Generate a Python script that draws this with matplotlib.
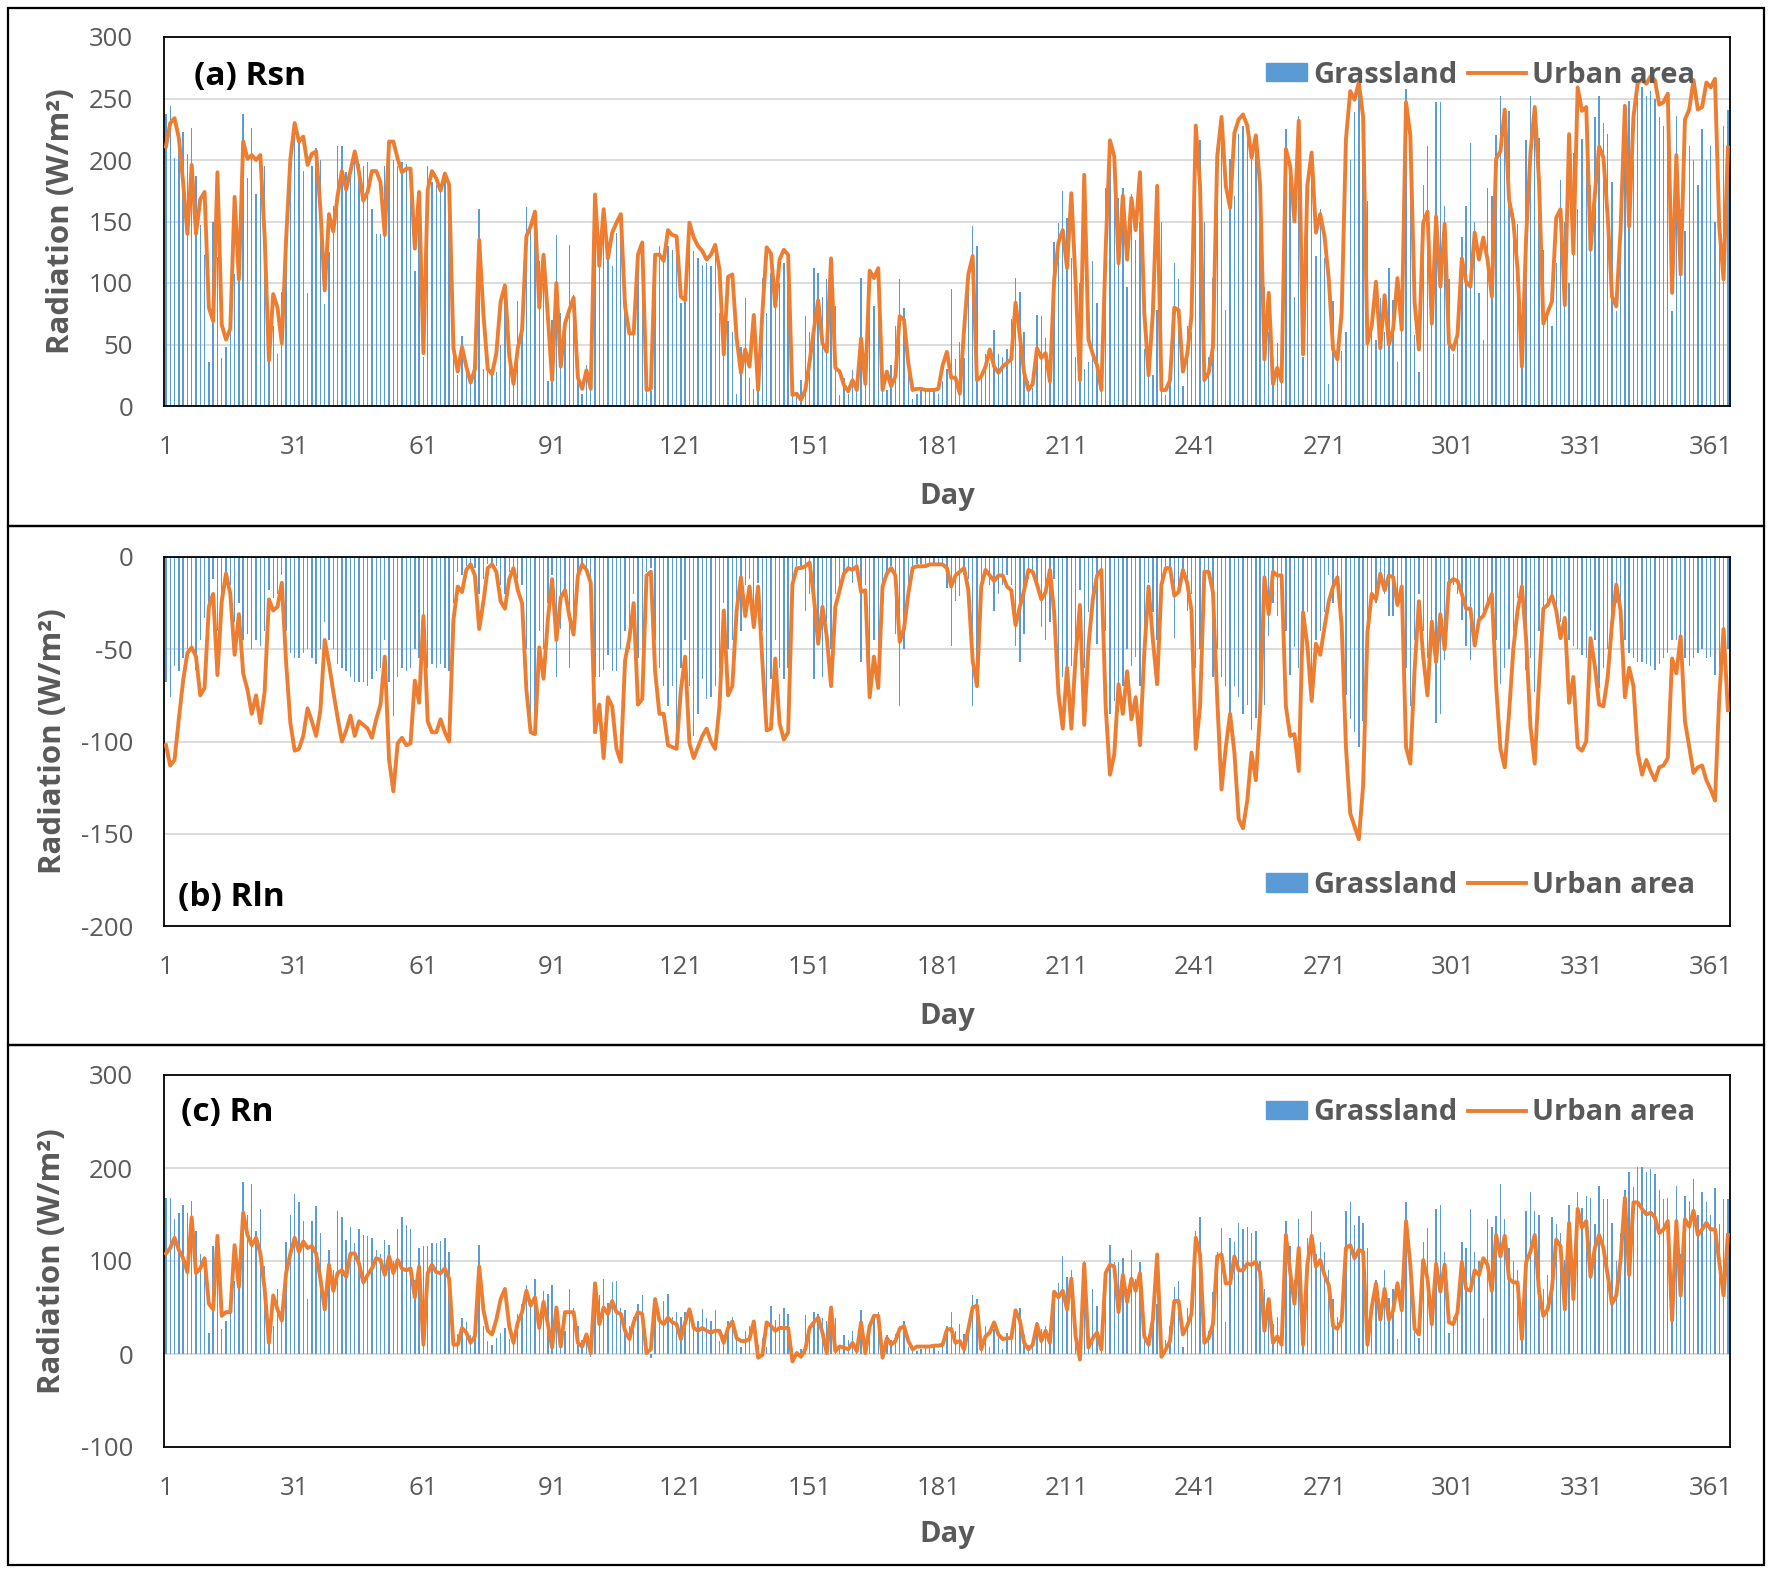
import numpy as np
import matplotlib
matplotlib.use("Agg")
import matplotlib.pyplot as plt
from matplotlib.patches import Rectangle, Patch
from matplotlib.lines import Line2D
from matplotlib.legend_handler import HandlerPatch

plt.rcParams["font.family"] = ["Open Sans", "DejaVu Sans"]
plt.rcParams["axes.unicode_minus"] = False

DAYS = np.arange(1, 366)
XTICKS = list(range(1, 366, 30))

# (a) net shortwave radiation, W/m2
RSN_GRASS = [
    237, 244, 202, 219, 223, 205, 226, 187, 147, 123,
    36, 150, 121, 39, 48, 60, 107, 102, 237, 185,
    226, 172, 205, 195, 40, 65, 42, 93, 140, 195,
    225, 215, 191, 92, 195, 210, 200, 83, 125, 163,
    211, 211, 190, 187, 200, 197, 195, 198, 160, 140,
    140, 195, 205, 200, 195, 198, 197, 190, 110, 168,
    40, 195, 182, 180, 180, 185, 178, 50, 25, 57,
    30, 18, 30, 160, 30, 45, 25, 28, 50, 98,
    48, 30, 85, 60, 162, 150, 140, 118, 100, 20,
    70, 139, 76, 60, 131, 90, 20, 10, 33, 18,
    160, 115, 150, 122, 114, 141, 150, 97, 65, 60,
    110, 120, 15, 12, 122, 130, 120, 130, 127, 125,
    84, 90, 140, 126, 120, 115, 116, 114, 127, 76,
    45, 69, 60, 10, 48, 88, 23, 14, 23, 104,
    76, 108, 81, 100, 116, 110, 12, 8, 21, 73,
    60, 112, 108, 89, 103, 100, 81, 9, 23, 10,
    29, 18, 104, 30, 90, 81, 100, 27, 13, 33,
    65, 103, 80, 30, 6, 10, 14, 13, 13, 13,
    10, 20, 30, 95, 38, 52, 39, 92, 146, 130,
    25, 42, 35, 62, 42, 40, 46, 71, 104, 93,
    60, 20, 15, 74, 73, 55, 30, 133, 149, 175,
    153, 120, 40, 100, 30, 36, 118, 84, 30, 177,
    198, 190, 169, 177, 97, 172, 135, 150, 46, 30,
    25, 78, 150, 9, 20, 116, 103, 16, 65, 60,
    190, 216, 150, 40, 104, 205, 215, 78, 201, 171,
    221, 228, 230, 202, 210, 190, 97, 60, 20, 51,
    30, 225, 190, 89, 236, 40, 176, 190, 122, 160,
    120, 18, 85, 40, 45, 60, 200, 239, 262, 237,
    167, 70, 54, 88, 60, 112, 86, 36, 80, 258,
    171, 58, 28, 180, 211, 100, 247, 247, 163, 103,
    42, 60, 137, 163, 214, 150, 92, 54, 177, 171,
    220, 252, 220, 240, 157, 148, 60, 216, 252, 230,
    218, 127, 80, 65, 116, 184, 150, 100, 206, 160,
    217, 233, 180, 235, 252, 230, 221, 182, 77, 120,
    200, 248, 200, 258, 259, 252, 256, 250, 235, 228,
    240, 77, 236, 160, 142, 211, 200, 180, 225, 200,
    211, 150, 180, 228, 241,
]
RSN_URBAN = [
    211, 230, 234, 218, 182, 140, 196, 140, 168, 174,
    80, 69, 190, 66, 54, 63, 170, 103, 215, 201,
    204, 200, 204, 138, 37, 91, 80, 51, 135, 201,
    230, 215, 219, 196, 205, 207, 160, 94, 156, 142,
    171, 191, 176, 191, 207, 190, 167, 174, 191, 191,
    182, 139, 215, 215, 201, 190, 193, 193, 128, 174,
    43, 176, 191, 185, 175, 189, 180, 47, 28, 48,
    32, 19, 30, 135, 74, 30, 26, 43, 85, 98,
    41, 18, 47, 62, 138, 146, 158, 80, 123, 73,
    21, 100, 32, 67, 78, 88, 23, 14, 29, 14,
    172, 114, 160, 120, 141, 149, 156, 81, 59, 59,
    123, 133, 13, 14, 123, 123, 118, 143, 139, 138,
    89, 86, 149, 137, 130, 126, 119, 123, 131, 111,
    42, 105, 107, 55, 27, 46, 32, 74, 13, 76,
    129, 124, 81, 119, 127, 123, 9, 10, 5, 13,
    36, 62, 86, 51, 44, 120, 31, 28, 17, 12,
    21, 13, 55, 18, 110, 104, 112, 13, 28, 16,
    24, 73, 70, 35, 13, 14, 14, 13, 13, 13,
    14, 33, 44, 23, 23, 10, 62, 107, 122, 21,
    24, 32, 46, 32, 27, 32, 35, 38, 84, 57,
    27, 13, 18, 47, 39, 43, 20, 103, 133, 143,
    112, 173, 100, 21, 188, 54, 42, 33, 13, 127,
    216, 203, 116, 171, 119, 169, 143, 190, 76, 25,
    76, 179, 13, 13, 21, 80, 78, 28, 42, 73,
    228, 179, 21, 27, 48, 203, 235, 179, 161, 222,
    233, 237, 228, 202, 220, 179, 38, 92, 18, 31,
    20, 209, 195, 150, 232, 42, 179, 206, 141, 156,
    138, 103, 46, 38, 76, 217, 256, 249, 263, 235,
    51, 65, 101, 47, 90, 50, 63, 104, 62, 247,
    220, 84, 46, 149, 158, 67, 154, 97, 148, 51,
    46, 58, 120, 101, 97, 141, 119, 137, 119, 89,
    201, 207, 241, 168, 150, 111, 32, 138, 206, 243,
    182, 67, 76, 85, 153, 160, 82, 221, 124, 259,
    240, 243, 127, 172, 211, 202, 154, 89, 81, 143,
    244, 146, 235, 263, 265, 262, 268, 265, 245, 247,
    254, 92, 204, 107, 233, 241, 265, 241, 243, 263,
    259, 266, 146, 103, 210,
]

# (b) net longwave radiation, W/m2
RLN_GRASS = [
    -68, -76, -59, -62, -55, -50, -48, -61, -45, -33,
    -30, -12, -40, -20, -8, -15, -35, -25, -45, -42,
    -50, -45, -48, -40, -18, -22, -20, -10, -40, -52,
    -55, -55, -52, -50, -55, -58, -50, -35, -45, -50,
    -58, -60, -62, -65, -68, -68, -68, -70, -66, -62,
    -60, -45, -68, -86, -65, -60, -62, -60, -50, -55,
    -32, -60, -58, -60, -58, -60, -62, -25, -8, -10,
    -5, -3, -6, -20, -12, -4, -3, -5, -15, -20,
    -8, -5, -12, -15, -50, -86, -88, -40, -50, -25,
    -10, -65, -39, -20, -60, -35, -8, -4, -6, -12,
    -65, -65, -61, -53, -62, -62, -50, -40, -50, -20,
    -55, -60, -8, -6, -45, -60, -70, -81, -70, -93,
    -60, -45, -70, -97, -85, -66, -77, -76, -70, -60,
    -25, -50, -45, -25, -40, -15, -12, -30, -14, -40,
    -86, -66, -45, -60, -66, -60, -12, -5, -5, -29,
    -20, -66, -40, -65, -35, -50, -20, -15, -8, -6,
    -14, -5, -57, -15, -55, -45, -55, -17, -8, -5,
    -42, -81, -50, -15, -5, -4, -4, -4, -4, -4,
    -4, -5, -17, -48, -24, -21, -10, -12, -81, -60,
    -14, -8, -15, -29, -20, -15, -10, -15, -48, -57,
    -42, -12, -10, -15, -38, -45, -35, -12, -67, -65,
    -70, -59, -54, -18, -60, -30, -25, -47, -10, -40,
    -85, -78, -84, -70, -50, -59, -54, -70, -45, -14,
    -30, -45, -12, -5, -8, -44, -15, -10, -29, -20,
    -60, -50, -8, -8, -65, -50, -65, -70, -85, -70,
    -76, -85, -80, -94, -87, -70, -80, -43, -25, -32,
    -20, -40, -64, -49, -60, -35, -30, -77, -45, -40,
    -30, -10, -25, -15, -40, -75, -88, -95, -103, -89,
    -40, -20, -25, -10, -20, -32, -32, -22, -15, -60,
    -81, -45, -20, -40, -55, -35, -90, -85, -56, -20,
    -15, -20, -34, -48, -56, -40, -35, -30, -25, -20,
    -45, -69, -60, -50, -40, -22, -18, -61, -55, -73,
    -40, -28, -25, -22, -30, -35, -30, -45, -48, -50,
    -53, -55, -40, -45, -71, -60, -50, -40, -25, -35,
    -45, -52, -55, -57, -57, -58, -59, -61, -58, -55,
    -52, -45, -45, -48, -55, -59, -55, -52, -50, -55,
    -54, -64, -60, -40, -50,
]
RLN_URBAN = [
    -102, -113, -110, -88, -67, -52, -49, -54, -75, -71,
    -27, -20, -64, -24, -9, -20, -53, -31, -63, -72,
    -85, -75, -90, -73, -23, -29, -27, -14, -57, -90,
    -105, -104, -97, -82, -89, -97, -83, -45, -58, -73,
    -87, -100, -94, -86, -97, -89, -91, -93, -98, -88,
    -80, -54, -110, -127, -101, -98, -102, -101, -67, -79,
    -32, -89, -95, -95, -88, -95, -100, -34, -16, -19,
    -7, -4, -10, -39, -24, -6, -4, -8, -24, -28,
    -12, -6, -18, -25, -72, -95, -96, -49, -66, -34,
    -12, -45, -22, -18, -32, -42, -10, -4, -7, -14,
    -95, -80, -109, -76, -81, -104, -111, -56, -44, -25,
    -80, -77, -10, -8, -62, -85, -85, -102, -103, -104,
    -72, -54, -101, -109, -103, -97, -93, -100, -104, -81,
    -29, -75, -70, -29, -11, -32, -16, -38, -16, -57,
    -94, -93, -55, -90, -99, -95, -15, -6, -6, -5,
    -3, -22, -47, -27, -43, -70, -27, -18, -9, -6,
    -7, -5, -19, -18, -76, -54, -71, -16, -9, -6,
    -10, -46, -39, -20, -6, -5, -5, -5, -4, -4,
    -4, -4, -6, -16, -10, -8, -6, -18, -56, -70,
    -16, -7, -10, -13, -10, -10, -16, -18, -37, -27,
    -18, -7, -8, -15, -23, -19, -7, -30, -74, -93,
    -60, -93, -54, -26, -91, -48, -23, -10, -7, -81,
    -118, -107, -69, -85, -62, -88, -76, -102, -52, -16,
    -45, -69, -15, -6, -6, -21, -19, -7, -14, -29,
    -104, -81, -8, -8, -19, -77, -126, -103, -85, -106,
    -142, -147, -132, -106, -121, -83, -11, -31, -8, -10,
    -10, -81, -97, -96, -116, -30, -48, -78, -47, -53,
    -38, -24, -16, -11, -37, -103, -139, -146, -153, -124,
    -41, -20, -23, -9, -18, -10, -11, -26, -16, -103,
    -112, -61, -24, -54, -75, -35, -57, -31, -50, -14,
    -12, -13, -20, -28, -28, -48, -34, -32, -26, -20,
    -70, -104, -114, -85, -50, -29, -16, -45, -92, -112,
    -67, -28, -26, -21, -29, -44, -33, -79, -65, -103,
    -105, -100, -44, -59, -80, -81, -65, -36, -15, -29,
    -76, -60, -70, -106, -118, -110, -116, -121, -114, -113,
    -109, -55, -63, -43, -89, -103, -117, -114, -113, -121,
    -126, -132, -76, -39, -83,
]

# (c) net radiation, W/m2
RN_GRASS = [
    168, 168, 145, 152, 160, 152, 165, 132, 107, 103,
    23, 116, 127, 27, 36, 45, 79, 81, 185, 150,
    183, 132, 156, 95, 37, 30, 70, 45, 120, 150,
    172, 163, 143, 59, 143, 159, 130, 60, 112, 90,
    154, 147, 123, 137, 119, 134, 128, 127, 125, 112,
    107, 123, 117, 100, 134, 147, 139, 134, 80, 114,
    116, 116, 119, 119, 121, 125, 110, 15, 21, 39,
    34, 20, 25, 117, 30, 14, 10, 17, 23, 28,
    16, 20, 43, 54, 74, 54, 81, 40, 68, 65,
    74, 36, 10, 25, 70, 50, 30, 15, 23, -3,
    75, 63, 81, 55, 77, 79, 50, 47, 30, 40,
    54, 63, 10, -4, 55, 45, 57, 65, 40, 45,
    40, 45, 50, 30, 35, 48, 39, 36, 47, 14,
    20, 35, 40, 15, 7, 25, 30, 1, 10, 17,
    8, 52, 37, 43, 50, 43, 5, 3, 5, 42,
    30, 45, 43, 39, 36, 30, 39, 10, 20, 15,
    25, 10, 47, 15, 34, 40, 45, 5, 20, 15,
    21, 30, 35, 7, 10, 3, 5, 8, 10, 7,
    3, 15, 30, 45, 25, 32, 21, 36, 63, 59,
    15, 30, 8, 27, 20, 5, 23, 25, 40, 50,
    20, 10, 15, 34, 27, 30, 20, 65, 76, 105,
    83, 90, 30, 10, 100, 20, 70, 52, 15, 90,
    117, 99, 99, 103, 70, 112, 81, 99, 30, 20,
    50, 54, 10, 15, 30, 72, 79, 8, 50, 60,
    132, 147, 40, 25, 67, 110, 136, 34, 125, 120,
    141, 134, 137, 130, 132, 100, 70, 59, 32, 40,
    30, 143, 116, 80, 145, 30, 125, 154, 107, 120,
    110, 90, 59, 40, 60, 154, 163, 139, 148, 141,
    114, 60, 80, 50, 90, 60, 70, 16, 80, 163,
    110, 40, 17, 120, 136, 40, 156, 160, 110, 23,
    40, 60, 120, 114, 156, 110, 100, 39, 145, 137,
    148, 183, 145, 114, 100, 90, 30, 154, 174, 154,
    150, 70, 85, 147, 140, 130, 101, 160, 80, 174,
    157, 170, 168, 140, 181, 167, 167, 141, 100, 130,
    176, 196, 180, 201, 201, 196, 199, 194, 176, 167,
    168, 70, 181, 108, 170, 165, 188, 150, 174, 163,
    150, 178, 140, 167, 167,
]
RN_URBAN = [
    108, 114, 125, 112, 103, 88, 147, 87, 92, 103,
    54, 48, 127, 41, 45, 45, 117, 72, 152, 128,
    117, 125, 108, 70, 12, 63, 48, 36, 87, 108,
    125, 110, 121, 114, 116, 108, 81, 48, 96, 68,
    87, 90, 83, 108, 108, 97, 77, 85, 92, 103,
    101, 85, 105, 87, 101, 92, 90, 92, 61, 94,
    10, 87, 96, 88, 87, 92, 81, 10, 10, 28,
    23, 12, 19, 94, 47, 25, 21, 37, 59, 70,
    30, 12, 34, 45, 68, 52, 61, 28, 56, 32,
    7, 50, 8, 45, 45, 45, 12, 8, 21, 1,
    76, 32, 50, 43, 57, 45, 43, 25, 16, 34,
    45, 43, 1, 5, 59, 36, 32, 39, 34, 32,
    16, 34, 48, 28, 25, 28, 25, 23, 25, 25,
    12, 28, 35, 17, 14, 14, 16, 35, -4, -1,
    34, 30, 25, 28, 28, 28, -8, 1, -3, 5,
    28, 34, 39, 23, 1, 50, 3, 8, 7, 5,
    12, 3, 34, 1, 30, 41, 41, -4, 17, 10,
    14, 27, 30, 14, 5, 8, 8, 8, 8, 9,
    9, 10, 26, 27, 12, 14, 5, 27, 50, 52,
    5, 19, 23, 34, 21, 16, 17, 17, 47, 36,
    12, 5, 10, 32, 14, 25, 12, 67, 61, 68,
    48, 81, 19, -6, 97, 7, 17, 23, 5, 87,
    96, 94, 45, 85, 56, 81, 68, 87, 19, 10,
    37, 107, -3, 5, 14, 57, 57, 21, 30, 43,
    125, 107, 12, 17, 32, 105, 107, 76, 76, 105,
    90, 90, 97, 96, 99, 88, 25, 59, 12, 19,
    10, 128, 88, 54, 114, 10, 96, 127, 94, 101,
    85, 74, 30, 27, 36, 114, 117, 103, 112, 110,
    10, 50, 76, 37, 70, 37, 47, 76, 47, 143,
    96, 27, 21, 101, 81, 32, 97, 67, 96, 34,
    32, 45, 99, 70, 68, 90, 85, 103, 96, 68,
    128, 105, 127, 81, 77, 77, 16, 99, 110, 128,
    67, 41, 48, 70, 123, 116, 48, 141, 59, 156,
    136, 143, 83, 114, 128, 114, 85, 54, 63, 101,
    168, 85, 163, 163, 156, 150, 152, 147, 130, 134,
    143, 36, 143, 63, 145, 137, 154, 128, 134, 141,
    134, 134, 99, 63, 128,
]

for name, arr in [("RSN_GRASS", RSN_GRASS), ("RSN_URBAN", RSN_URBAN),
                  ("RLN_GRASS", RLN_GRASS), ("RLN_URBAN", RLN_URBAN),
                  ("RN_GRASS", RN_GRASS), ("RN_URBAN", RN_URBAN)]:
    assert len(arr) == 365, f"{name} has {len(arr)} values"

BLUE = "#5B9BD5"
ORANGE = "#ED7D31"
GRAY = "#595959"
GRID = "#D9D9D9"

W, H = 1772, 1571
fig = plt.figure(figsize=(W / 100, H / 100), dpi=100)

PANELS = [
    # top/bottom of plot area and outer box, in pixels
    dict(top=37, bottom=406, box=(8, 526), grass=RSN_GRASS, urban=RSN_URBAN,
         ylim=(0, 300), step=50, title="(a) Rsn", title_x=0.019, title_y=0.894,
         leg_y=0.897, ylab_x=-0.056, xlab_y=-0.206),
    dict(top=557, bottom=926, box=(526, 1045), grass=RLN_GRASS, urban=RLN_URBAN,
         ylim=(-200, 0), step=50, title="(b) Rln", title_x=0.009, title_y=0.076,
         leg_y=0.111, ylab_x=-0.061, xlab_y=-0.206),
    dict(top=1075, bottom=1447, box=(1045, 1565), grass=RN_GRASS, urban=RN_URBAN,
         ylim=(-100, 300), step=100, title="(c) Rn", title_x=0.011, title_y=0.898,
         leg_y=0.898, ylab_x=-0.062, xlab_y=-0.196),
]
LEFT, RIGHT = 163.8, 1730


def narrow_patch(legend, orig_handle, xdescent, ydescent, width, height, fontsize):
    # Excel draws the bar key shorter than the line key
    return Rectangle((-xdescent + 0.3 * width, -ydescent), 0.7 * width, height)


for p in PANELS:
    y0, y1 = p["box"]
    fig.add_artist(Rectangle((8 / W, 1 - y1 / H), (1764 - 8) / W, (y1 - y0) / H,
                             transform=fig.transFigure, fill=False,
                             ec="black", lw=1.6))
    ax = fig.add_axes([LEFT / W, 1 - p["bottom"] / H, (RIGHT - LEFT) / W,
                       (p["bottom"] - p["top"]) / H])
    ax.bar(DAYS, p["grass"], width=0.32, color=BLUE, zorder=2)
    ax.plot(DAYS, p["urban"], color=ORANGE, lw=2.8, zorder=3,
            solid_joinstyle="round")
    ax.set_xlim(0.5, 365.5)
    lo, hi = p["ylim"]
    ax.set_ylim(lo, hi)
    ax.set_yticks(np.arange(lo, hi + 1, p["step"]))
    ax.set_xticks(XTICKS)
    ax.yaxis.grid(True, color=GRID, lw=1.3)
    ax.set_axisbelow(True)
    ax.tick_params(axis="both", length=0, labelsize=18.5, colors=GRAY)
    ax.tick_params(axis="y", pad=22)
    ax.tick_params(axis="x", pad=21)
    for s in ax.spines.values():
        s.set_color("black")
        s.set_linewidth(1.3)
    ax.set_ylabel("Radiation (W/m²)", fontsize=22.5, fontweight="bold", color=GRAY)
    ax.yaxis.set_label_coords(p["ylab_x"], 0.5)
    ax.set_xlabel("Day", fontsize=21, fontweight="bold", color=GRAY)
    ax.xaxis.set_label_coords(0.5, p["xlab_y"])
    ax.text(p["title_x"], p["title_y"], p["title"], transform=ax.transAxes,
            fontsize=24, fontweight="bold", color="black", va="center", ha="left")
    handles = [Patch(color=BLUE), Line2D([], [], color=ORANGE, lw=2.8)]
    ax.legend(handles, ["Grassland", "Urban area"], ncol=2, frameon=False,
              loc="center right", bbox_to_anchor=(0.985, p["leg_y"]),
              prop=dict(size=21, weight="bold"), labelcolor=GRAY,
              handlelength=2.0, handleheight=0.6, handletextpad=0.2,
              columnspacing=0.35, borderaxespad=0,
              handler_map={Patch: HandlerPatch(patch_func=narrow_patch)})

fig.savefig("out.png", dpi=100)
